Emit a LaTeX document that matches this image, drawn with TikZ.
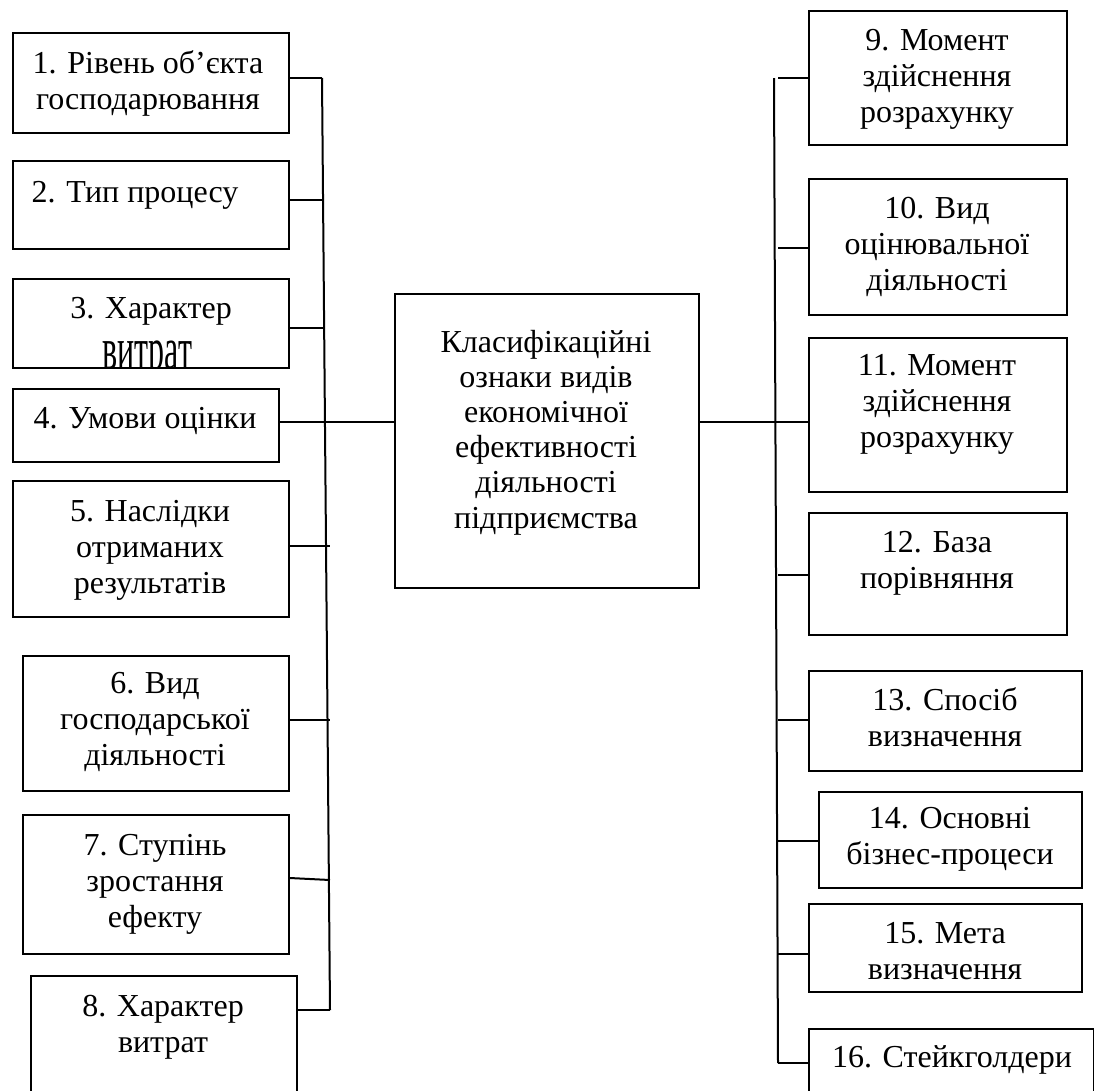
\documentclass[tikz,border=0pt]{standalone}
\usepackage{fontspec}
\setmainfont{Liberation Serif}
\usetikzlibrary{calc}
\tikzset{
  box/.style={draw=black, line width=2pt, inner sep=0pt, anchor=north west, fill=none},
  txt/.style={anchor=base, inner sep=0pt, font=\fontsize{32}{36}\selectfont},
  conn/.style={draw=black, line width=2pt},
}
\newcommand{\ml}[1]{\parbox[t]{330pt}{\centering #1}}
\begin{document}
\begin{tikzpicture}[x=1pt,y=-1pt]
\useasboundingbox (0,0) rectangle (1094,1090);
\fill[white] (0,0) rectangle (1094,1090);
% ---------- left boxes ----------
\node[box, minimum width=276pt, minimum height=100pt] (b1) at (12,32) {};
\node[box, minimum width=276pt, minimum height=88pt]  (b2) at (12,160) {};
\node[box, minimum width=276pt, minimum height=89pt]  (b3) at (12,278) {};
\node[box, minimum width=266pt, minimum height=73pt]  (b4) at (12,388) {};
\node[box, minimum width=276pt, minimum height=136pt] (b5) at (12,480) {};
\node[box, minimum width=266pt, minimum height=135pt] (b6) at (22,655) {};
\node[box, minimum width=266pt, minimum height=139pt] (b7) at (22,814) {};
\node[box, minimum width=266pt, minimum height=130pt] (b8) at (30,975) {};
% ---------- centre ----------
\node[box, minimum width=304pt, minimum height=294pt] (c) at (394,293) {};
% ---------- right boxes ----------
\node[box, minimum width=258pt, minimum height=134pt] (b9)  at (808,10) {};
\node[box, minimum width=258pt, minimum height=136pt] (b10) at (808,178) {};
\node[box, minimum width=258pt, minimum height=154pt] (b11) at (808,337) {};
\node[box, minimum width=258pt, minimum height=122pt] (b12) at (808,512) {};
\node[box, minimum width=273pt, minimum height=100pt] (b13) at (808,670) {};
\node[box, minimum width=263pt, minimum height=96pt]  (b14) at (818,791) {};
\node[box, minimum width=273pt, minimum height=88pt]  (b15) at (808,903) {};
\node[box, minimum width=285pt, minimum height=80pt]  (b16) at (808,1028) {};
% ---------- texts ----------
\node[txt] (t1) at (148,73) {\ml{1. Рівень об’єкта\\господарювання}};
\node[txt] (t2) at (135,202) {\ml{2. Тип процесу}};
\node[txt] (t3) at (151,318) {\ml{3. Характер}};
\begin{scope}
  \clip (12,278) rectangle (288,366);
  \node[txt] (t3b) at (147,369) {\scalebox{1}[1.9]{витрат}};
\end{scope}
\node[txt] (t4) at (145,428) {\ml{4. Умови оцінки}};
\node[txt] (t5) at (150,521) {\ml{5. Наслідки\\отриманих\\результатів}};
\node[txt] (t6) at (155,693) {\ml{6. Вид\\господарської\\діяльності}};
\node[txt] (t7) at (155,855) {\ml{7. Ступінь\\зростання\\ефекту}};
\node[txt] (t8) at (163,1016) {\ml{8. Характер\\витрат}};
\node[txt] (tc) at (546,352) {\parbox[t]{330pt}{\centering\fontsize{32}{35.2}\selectfont Класифікаційні\\ознаки видів\\економічної\\ефективності\\діяльності\\підприємства}};
\node[txt] (t9)  at (937,50)  {\ml{9. Момент\\здійснення\\розрахунку}};
\node[txt] (t10) at (937,218) {\ml{10. Вид\\оцінювальної\\діяльності}};
\node[txt] (t11) at (937,375) {\ml{11. Момент\\здійснення\\розрахунку}};
\node[txt] (t12) at (937,552) {\ml{12. База\\порівняння}};
\node[txt] (t13) at (945,710) {\ml{13. Спосіб\\визначення}};
\node[txt] (t14) at (950,828) {\ml{14. Основні\\бізнес-процеси}};
\node[txt] (t15) at (945,943) {\ml{15. Мета\\визначення}};
\node[txt] (t16) at (952,1067) {\ml{16. Стейкголдери}};
% ---------- left bus ----------
\coordinate (L1) at (322,78);
\coordinate (L2) at (323,200);
\coordinate (L3) at (324,328);
\coordinate (L4) at (325,422);
\coordinate (L5) at (330,546);
\coordinate (L6) at (330,720);
\coordinate (L7) at (330,880);
\coordinate (L8) at (330,1010);
\draw[conn] (L1) -- (L8);
\draw[conn] (b1.east |- L1) -- (L1);
\draw[conn] (b2.east |- L2) -- (L2);
\draw[conn] (b3.east |- L3) -- (L3);
\draw[conn] (b4.east |- L4) -- (c.west |- L4);
\draw[conn] (b5.east |- L5) -- (L5);
\draw[conn] (b6.east |- L6) -- (L6);
\draw[conn] ($(b7.east |- L7)+(0,-2)$) -- (L7);
\draw[conn] (b8.east |- L8) -- (L8);
% ---------- right bus ----------
\coordinate (R1) at (774,78);
\coordinate (R1c) at (778,78);
\coordinate (R2) at (778,248);
\coordinate (R3) at (776,422);
\coordinate (R4) at (778,575);
\coordinate (R5) at (778,720);
\coordinate (R6) at (778,841);
\coordinate (R7) at (778,954);
\coordinate (R8) at (778,1063);
\draw[conn] (R1) -- (R8);
\draw[conn] (R1c) -- (b9.west |- R1c);
\draw[conn] (R2) -- (b10.west |- R2);
\draw[conn] (c.east |- R3) -- (b11.west |- R3);
\draw[conn] (R4) -- (b12.west |- R4);
\draw[conn] (R5) -- (b13.west |- R5);
\draw[conn] (R6) -- (b14.west |- R6);
\draw[conn] (R7) -- (b15.west |- R7);
\draw[conn] (R8) -- (b16.west |- R8);
\end{tikzpicture}
\end{document}
